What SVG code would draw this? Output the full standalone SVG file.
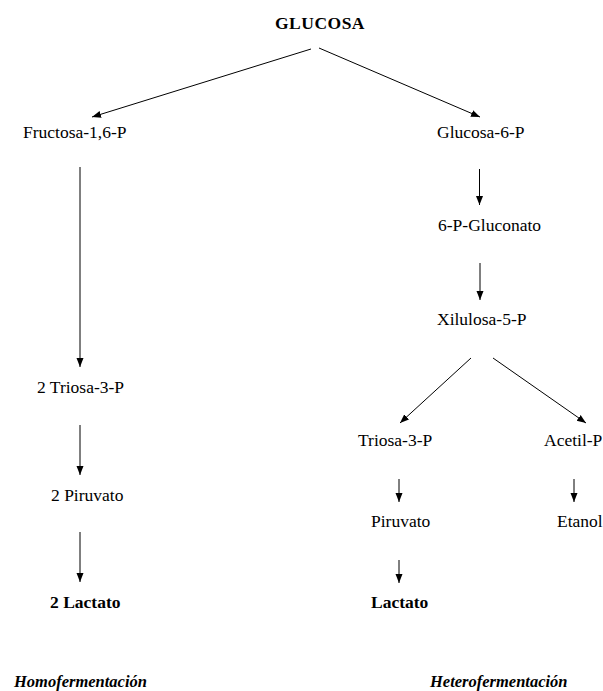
<svg xmlns="http://www.w3.org/2000/svg" width="603" height="691" viewBox="0 0 603 691">
<defs>
<marker id="ah" markerUnits="userSpaceOnUse" markerWidth="10" markerHeight="10" refX="9" refY="4" orient="auto">
<path d="M0,0.5 L9,4 L0,7.5 z" fill="#000"/>
</marker>
<style>
text{font-family:'Liberation Serif','Times New Roman','DejaVu Serif',serif;font-size:17.5px;fill:#000}
.b{font-weight:bold}
.bi{font-weight:bold;font-style:italic;font-size:16.5px}
.c line{stroke:#000;stroke-width:1;marker-end:url(#ah)}
</style>
</defs>
<rect width="603" height="691" fill="#fff"/>
<g class="c" id="connectors">
<line x1="311" y1="49" x2="92" y2="117"/>
<line x1="319" y1="48" x2="480" y2="117"/>
<line x1="80" y1="167" x2="80" y2="367"/>
<line x1="80" y1="425" x2="80" y2="475"/>
<line x1="80" y1="532" x2="80" y2="582"/>
<line x1="479.5" y1="169" x2="479.5" y2="205"/>
<line x1="480" y1="263" x2="480" y2="300"/>
<line x1="471" y1="358" x2="400" y2="423"/>
<line x1="493" y1="358" x2="586" y2="423"/>
<line x1="399" y1="479" x2="399" y2="502"/>
<line x1="574" y1="479" x2="574" y2="502"/>
<line x1="399" y1="560" x2="399" y2="583"/>
</g>
<g id="glucosa"><text class="b" x="320" y="29" text-anchor="middle" font-size="17" letter-spacing="0.5">GLUCOSA</text></g>
<g id="fructosa"><text x="23" y="138">Fructosa-1,6-P</text></g>
<g id="glucosa6p"><text x="437" y="138">Glucosa-6-P</text></g>
<g id="gluconato"><text x="438" y="231">6-P-Gluconato</text></g>
<g id="xilulosa"><text x="437" y="325">Xilulosa-5-P</text></g>
<g id="triosa2"><text x="37" y="393">2 Triosa-3-P</text></g>
<g id="triosa"><text x="358" y="446">Triosa-3-P</text></g>
<g id="acetil"><text x="544" y="446">Acetil-P</text></g>
<g id="piruvato2"><text x="51" y="501">2 Piruvato</text></g>
<g id="piruvato"><text x="371" y="527">Piruvato</text></g>
<g id="etanol"><text x="557" y="527">Etanol</text></g>
<g id="lactato2"><text class="b" x="50" y="608">2 Lactato</text></g>
<g id="lactato"><text class="b" x="371" y="608">Lactato</text></g>
<g id="homo"><text class="bi" x="14" y="687">Homofermentación</text></g>
<g id="hetero"><text class="bi" x="430" y="687">Heterofermentación</text></g>
</svg>
